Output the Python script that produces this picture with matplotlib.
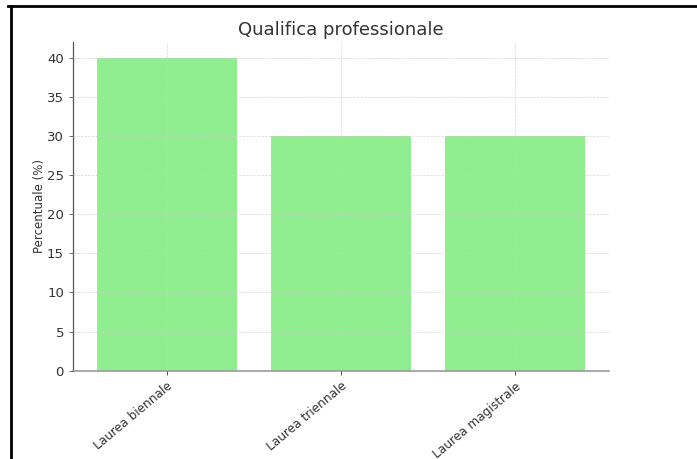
import matplotlib.pyplot as plt
from matplotlib.lines import Line2D

# data
categories = ['Laurea biennale', 'Laurea triennale', 'Laurea magistrale']
percentuali = [40, 30, 30]

plt.rcParams['font.family'] = ['DejaVu Sans']
text_col = '#333333'

fig = plt.figure(figsize=(6.97, 4.59), dpi=100)
ax = fig.add_axes([0.1047, 0.1924, 0.769, 0.7161])

ax.bar(categories, percentuali, color='#90EE90', width=0.8)

ax.set_title('Qualifica professionale', fontsize=13, color=text_col, pad=5)
ax.set_ylabel('Percentuale (%)', fontsize=8.5, color=text_col, labelpad=1)
ax.set_yticks([0, 5, 10, 15, 20, 25, 30, 35, 40])
ax.tick_params(axis='y', labelsize=9.5, colors=text_col, length=3, width=0.6)
ax.tick_params(axis='x', labelsize=8.7, colors=text_col, length=3, width=0.6)
ax.tick_params(axis='y', color='#555555')
plt.setp(ax.get_xticklabels(), rotation=40, ha='right', rotation_mode='anchor')

ax.grid(True, linestyle='--', linewidth=0.5, color='#cccccc', alpha=0.8)
ax.set_axisbelow(False)
for s in ['top', 'right']:
    ax.spines[s].set_visible(False)
ax.spines['left'].set_color('#555555')
ax.spines['bottom'].set_color('#999999')
ax.spines['left'].set_linewidth(0.9)
ax.spines['bottom'].set_linewidth(1.2)

# screenshot frame on top and left
fig.add_artist(Line2D([8 / 697, 1], [1 - 6 / 459, 1 - 6 / 459], color='black', linewidth=2, transform=fig.transFigure))
fig.add_artist(Line2D([11 / 697, 11 / 697], [0, 1 - 6 / 459], color='black', linewidth=2, transform=fig.transFigure))

fig.savefig('out.png', dpi=100)
